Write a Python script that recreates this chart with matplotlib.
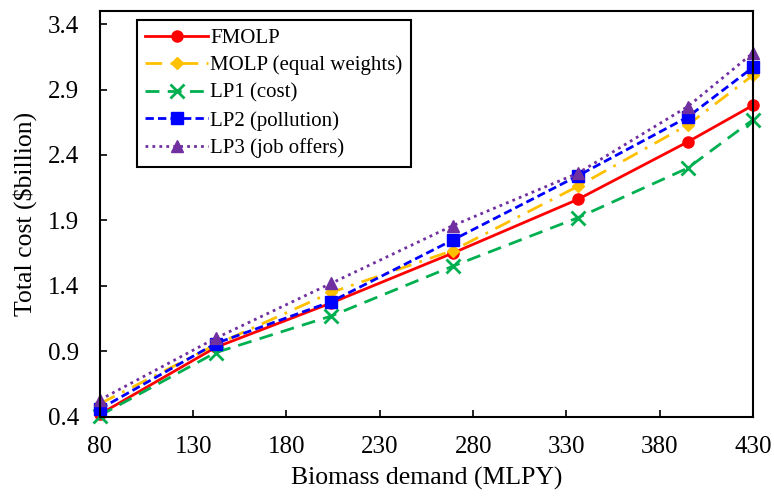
import matplotlib
matplotlib.use('Agg')
import matplotlib.pyplot as plt

plt.rcParams['font.family'] = ['Liberation Serif', 'DejaVu Serif']

# 数据
demand = [80, 142, 204, 269, 336, 395, 430]
fmolp = [0.42, 0.93, 1.27, 1.65, 2.06, 2.50, 2.78]
molp = [0.50, 0.95, 1.35, 1.67, 2.16, 2.63, 3.01]
lp1 = [0.41, 0.89, 1.17, 1.55, 1.92, 2.30, 2.67]
lp2 = [0.46, 0.96, 1.28, 1.75, 2.24, 2.69, 3.07]
lp3 = [0.53, 1.00, 1.42, 1.86, 2.26, 2.77, 3.18]

xticks = [80, 130, 180, 230, 280, 330, 380, 430]
yticks = [0.4, 0.9, 1.4, 1.9, 2.4, 2.9, 3.4]

fig = plt.figure(figsize=(7.74, 4.98), dpi=100)
ax = fig.add_axes([0.129, 0.163, 0.844, 0.815])

ax.plot(demand, fmolp, color='#ff0000', lw=2, ls='-', marker='o', ms=8, label='FMOLP', clip_on=False)
ax.plot(demand, molp, color='#ffc000', lw=2, ls=(0, (6, 3, 1, 3)), marker='D', ms=6,
        label='MOLP (equal weights)', clip_on=False)
ax.plot(demand, lp1, color='#00b050', lw=2, ls=(0, (5, 3)), marker='x', ms=10, mew=2,
        label='LP1 (cost)', clip_on=False)
ax.plot(demand, lp2, color='#0000ff', lw=2, ls=(0, (3, 1.5)), marker='s', ms=8,
        label='LP2 (pollution)', clip_on=False)
ax.plot(demand, lp3, color='#7030a0', lw=2, ls=(0, (1, 1.5)), marker='^', ms=8,
        label='LP3 (job offers)', clip_on=False)

ax.set_xlim(80, 430)
ax.set_ylim(0.4, 3.5)
ax.set_xticks(xticks)
ax.set_yticks(yticks)
ax.set_yticklabels(['%.1f' % v for v in yticks])
ax.tick_params(direction='in', length=5, width=1.2, labelsize=18)
ax.tick_params(axis='y', pad=15)
ax.tick_params(axis='x', pad=14)
for s in ax.spines.values():
    s.set_linewidth(1.5)

ax.set_xlabel('Biomass demand (MLPY)', fontsize=18.5, labelpad=6)
ax.set_ylabel('Total cost ($billion)', fontsize=18.5, labelpad=8)

leg = ax.legend(loc='upper left', bbox_to_anchor=(0.057, 0.978), borderaxespad=0,
                fontsize=15, handlelength=3.0, handletextpad=0.1, labelspacing=0.38,
                borderpad=0.4, fancybox=False, framealpha=1, edgecolor='black')
leg.get_frame().set_linewidth(1.5)

fig.savefig('out.png', dpi=100)
